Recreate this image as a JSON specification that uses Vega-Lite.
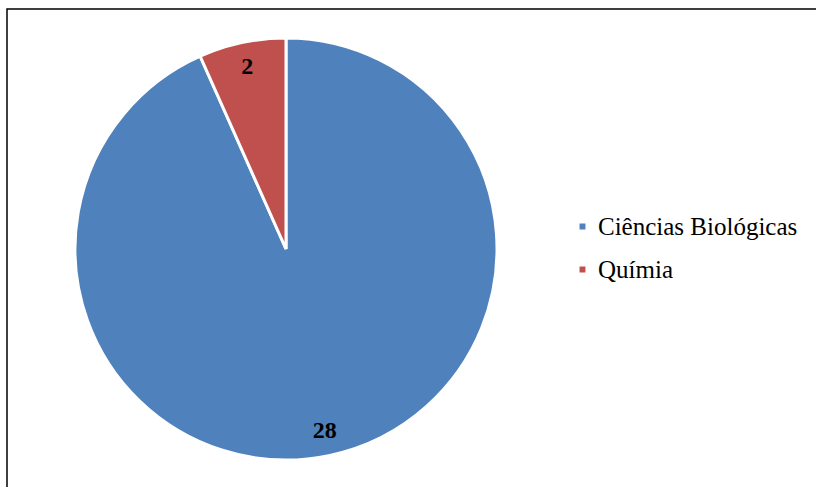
{
  "$schema": "https://vega.github.io/schema/vega-lite/v6.json",
  "autosize": {"type": "none"},
  "padding": {"left": 7, "top": 9, "right": 0, "bottom": 0},
  "width": 830,
  "height": 500,
  "background": "white",
  "config": {
    "view": {"stroke": "black", "strokeWidth": 1.5},
    "font": "Liberation Serif",
    "legend": {
      "labelFont": "Liberation Serif",
      "labelFontSize": 25,
      "labelColor": "black",
      "labelLimit": 400
    }
  },
  "data": {
    "values": [
      {"area": "Ciências Biológicas", "n": 28, "ord": 1},
      {"area": "Químia", "n": 2, "ord": 2}
    ]
  },
  "encoding": {
    "theta": {"field": "n", "type": "quantitative", "stack": true},
    "order": {"field": "ord", "type": "quantitative"},
    "x": {"value": 279},
    "y": {"value": 240}
  },
  "layer": [
    {
      "mark": {"type": "arc", "outerRadius": 211, "stroke": "white", "strokeWidth": 3},
      "encoding": {
        "color": {
          "field": "area",
          "type": "nominal",
          "scale": {"domain": ["Ciências Biológicas", "Químia"], "range": ["#4F81BD", "#C0504D"]},
          "legend": {
            "title": null,
            "orient": "none",
            "legendX": 563,
            "legendY": 205,
            "symbolType": "square",
            "symbolSize": 55,
            "labelFont": "Liberation Serif",
            "labelFontSize": 25,
            "labelLimit": 400,
            "labelColor": "black",
            "rowPadding": 17,
            "labelOffset": 3
          }
        }
      }
    },
    {
      "mark": {"type": "text", "radius": 186, "font": "Liberation Serif", "fontSize": 24, "fontWeight": "bold", "color": "black"},
      "encoding": {
        "text": {"field": "n", "type": "quantitative"}
      }
    }
  ]
}
